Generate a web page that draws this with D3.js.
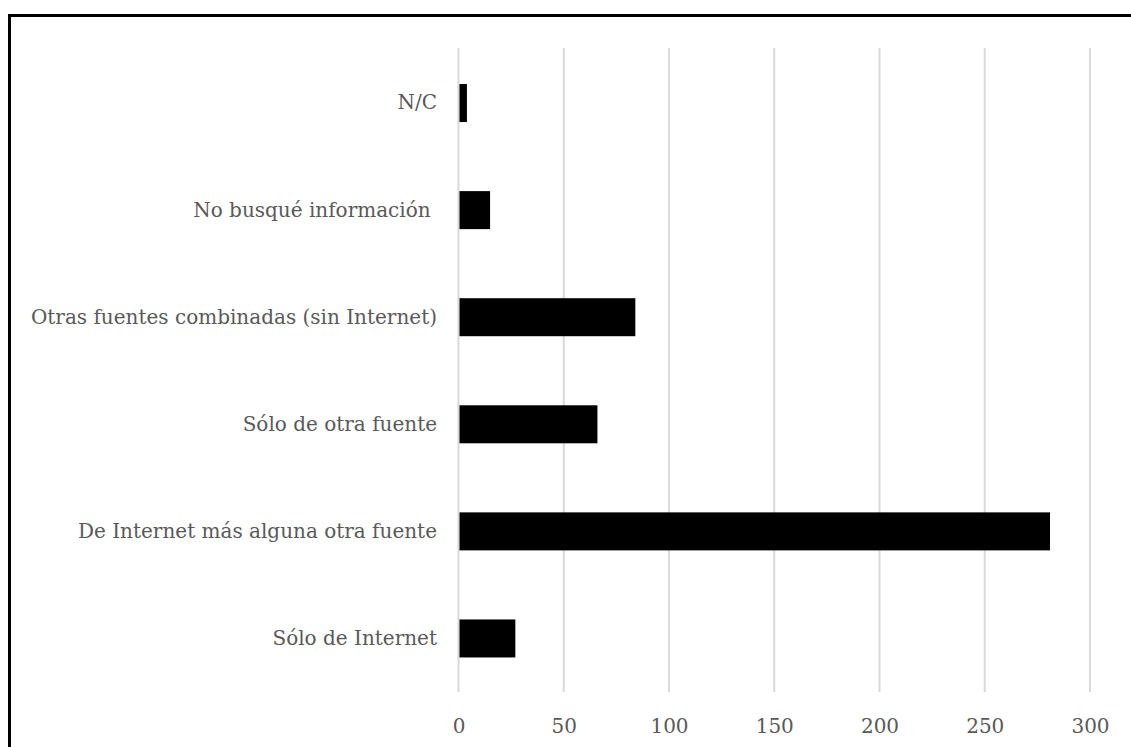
<!DOCTYPE html>
<html>
<head>
<meta charset="utf-8">
<script src="https://cdn.jsdelivr.net/npm/d3@7"></script>
<style>
html,body{margin:0;padding:0;background:#fff;}
svg{display:block;}
</style>
</head>
<body>
<svg id="chart" width="1131" height="747"></svg>
<script>
const categories = ["N/C","No busqué información ","Otras fuentes combinadas (sin Internet)","Sólo de otra fuente","De Internet más alguna otra fuente","Sólo de Internet"];
const values = [4,15,84,66,281,27];
const xTicks = [0,50,100,150,200,250,300];

const svg = d3.select("#chart");
const font = "'DejaVu Serif', 'Liberation Serif', serif";
const textColor = "#595959";

const x = d3.scaleLinear().domain([0,300]).range([458.5,1090]);
const y = d3.scaleBand().domain(categories).range([49.5,692]).paddingInner(0.645).paddingOuter(0.3225);

// border (top and left only visible)
svg.append("line").attr("x1",9.5).attr("x2",1131).attr("y1",15.5).attr("y2",15.5).attr("stroke","#000").attr("stroke-width",3);
svg.append("line").attr("x1",9.5).attr("x2",9.5).attr("y1",14).attr("y2",747).attr("stroke","#000").attr("stroke-width",3);

// gridlines
svg.append("g").selectAll("line").data(xTicks).join("line")
  .attr("x1",d=>x(d)).attr("x2",d=>x(d))
  .attr("y1",48).attr("y2",692)
  .attr("stroke","#d9d9d9").attr("stroke-width",2);

// bars
svg.append("g").selectAll("rect").data(values).join("rect")
  .attr("x",x(0)+1)
  .attr("y",(d,i)=>y(categories[i]))
  .attr("width",d=>x(d)-x(0)-1)
  .attr("height",y.bandwidth())
  .attr("fill","#000");

// x axis labels
const xAxis = d3.axisBottom(x).tickValues(xTicks).tickSize(0).tickPadding(0).tickFormat(d3.format("d"));
const gx = svg.append("g").attr("transform","translate(0,719)").call(xAxis);
gx.select(".domain").remove();
gx.selectAll("text").attr("font-family",font).attr("font-size",20).attr("fill",textColor);

// y axis labels
const yAxis = d3.axisLeft(y).tickSize(0).tickPadding(0);
const gy = svg.append("g").attr("transform","translate(437,0)").call(yAxis);
gy.select(".domain").remove();
gy.selectAll("text").attr("font-family",font).attr("font-size",20).attr("fill",textColor).style("white-space","pre").attr("xml:space","preserve");
</script>
</body>
</html>
